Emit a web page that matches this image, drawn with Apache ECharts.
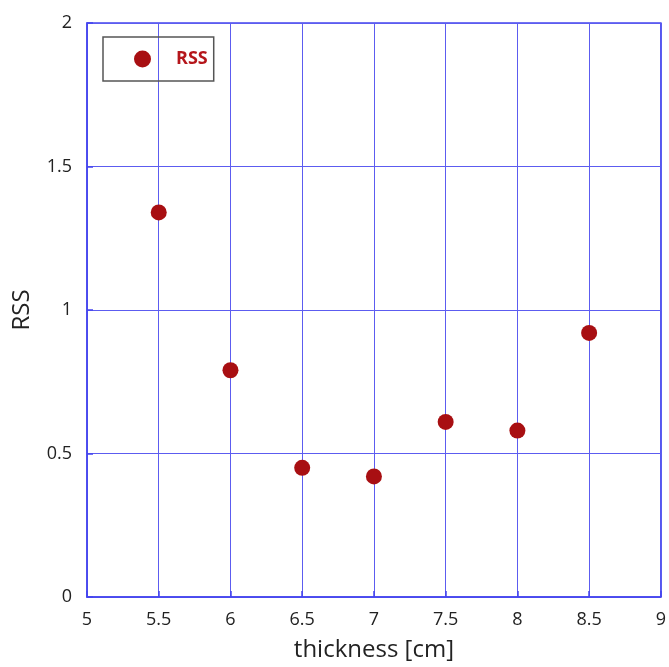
<!DOCTYPE html>
<html>
<head>
<meta charset="utf-8">
<script src="https://cdn.jsdelivr.net/npm/echarts@6/dist/echarts.min.js"></script>
<style>
html, body { margin: 0; padding: 0; background: #fff; }
#chart { width: 669px; height: 667px; }
</style>
</head>
<body>
<div id="chart"></div>
<script>
var thickness = [5.5, 6, 6.5, 7, 7.5, 8, 8.5];
var rss = [1.34, 0.79, 0.45, 0.42, 0.61, 0.58, 0.92];

var points = [];
for (var i = 0; i < thickness.length; i++) {
	points.push([thickness[i], rss[i]]);
}

var gridBlue = '#4444ee';
var fontFam = '"Open Sans", "DejaVu Sans", sans-serif';

var option = {
	backgroundColor: '#fff',
	animation: false,
	grid: { left: 87, top: 23, right: 6, bottom: 70, show: true, borderColor: gridBlue, borderWidth: 1.5 },
	legend: {
		left: 103,
		top: 37,
		orient: 'horizontal',
		itemGap: 0,
		padding: [13, 6, 13, 31],
		borderColor: '#555',
		borderWidth: 1.5,
		itemWidth: 17,
		itemHeight: 17,
		textStyle: { color: '#b5161b', fontSize: 18, fontWeight: 'bold', fontFamily: fontFam, padding: [0, 0, 0, 20] },
		data: ['RSS']
	},
	xAxis: {
		type: 'value',
		min: 5, max: 9, interval: 0.5,
		name: 'thickness [cm]',
		nameLocation: 'middle',
		nameGap: 41,
		nameTextStyle: { fontSize: 24, color: '#222', fontFamily: fontFam },
		axisLine: { show: true, lineStyle: { color: gridBlue, width: 1.5 } },
		axisTick: { show: true, inside: true, length: 6, lineStyle: { color: gridBlue, width: 1.5 } },
		axisLabel: { fontSize: 18, color: '#222', margin: 14, fontFamily: fontFam },
		splitLine: { show: true, lineStyle: { color: '#5c5cf0', width: 1 } }
	},
	yAxis: {
		type: 'value',
		min: 0, max: 2, interval: 0.5,
		name: 'RSS',
		nameLocation: 'middle',
		nameGap: 53,
		nameTextStyle: { fontSize: 24, color: '#222', fontFamily: fontFam },
		axisLine: { show: true, lineStyle: { color: gridBlue, width: 1.5 } },
		axisTick: { show: true, inside: true, length: 6, lineStyle: { color: gridBlue, width: 1.5 } },
		axisLabel: { fontSize: 18, color: '#222', margin: 15, fontFamily: fontFam },
		splitLine: { show: true, lineStyle: { color: '#5c5cf0', width: 1 } }
	},
	series: [{
		name: 'RSS',
		type: 'scatter',
		symbol: 'circle',
		symbolSize: 16,
		itemStyle: { color: '#a80f12', opacity: 1 },
		data: points
	}]
};

var chart = echarts.init(document.getElementById('chart'));
chart.setOption(option);
</script>
</body>
</html>
